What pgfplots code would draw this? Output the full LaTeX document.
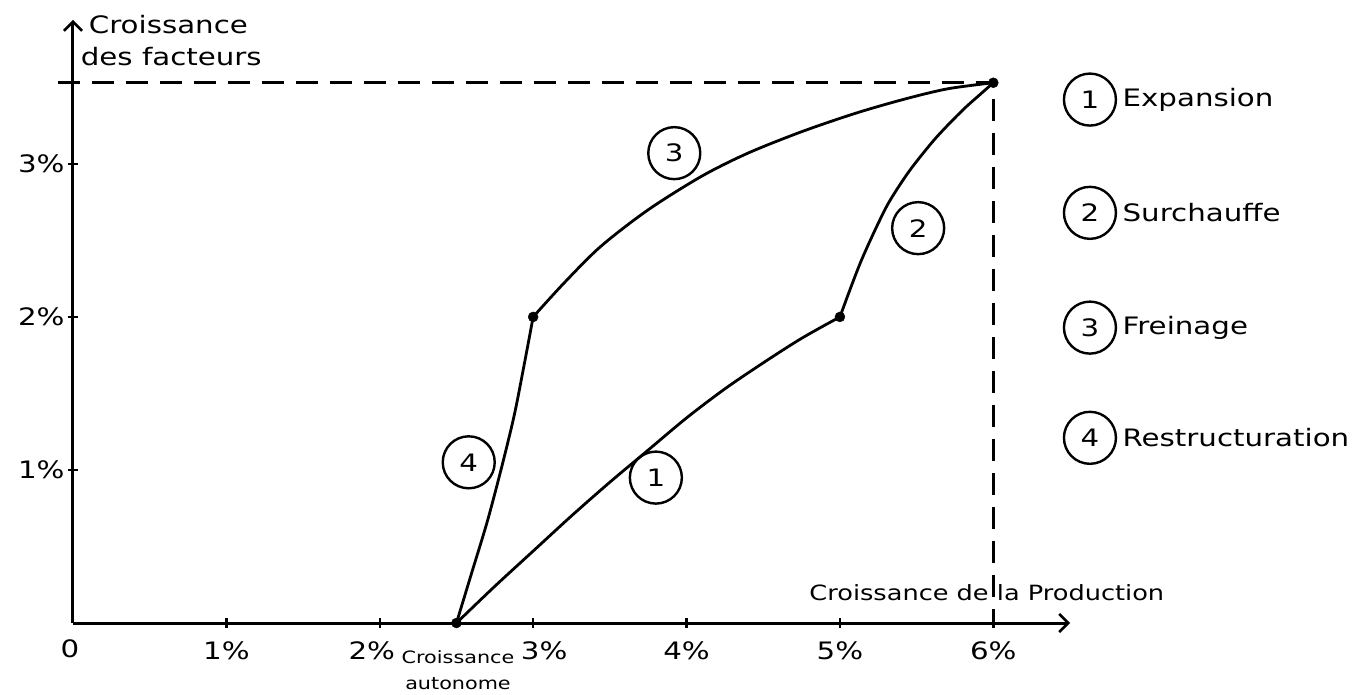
\documentclass[border=0pt]{standalone}
\usepackage{fontspec}
\setmainfont{DejaVu Sans}[FakeStretch=1.22]
\usepackage{pgfplots}
\pgfplotsset{compat=1.18}
\usetikzlibrary{arrows.meta}
\newcommand\hand{\fontsize{24}{28}\selectfont}

\begin{document}
\begin{tikzpicture}[font=\hand,
    circ/.style={draw, circle, line width=2.4pt, minimum size=52pt, inner sep=0pt}]
\useasboundingbox (-73pt,-71pt) rectangle (1291pt,623pt);
\begin{axis}[
    at={(0pt,0pt)}, anchor=origin,
    scale only axis, width=997pt, height=603pt,
    xmin=0, xmax=6.5, ymin=0, ymax=3.94,
    axis lines=left,
    axis line style={line width=3pt},
    x axis line style={-{Straight Barb[length=9pt,width=18pt,line width=2.6pt]}},
    y axis line style={-{Straight Barb[length=9pt,width=18pt,line width=2.6pt]}},
    xtick={1,2,3,4,5,6},
    xticklabels={1\%,2\%\hspace*{16pt},\hspace*{22pt}3\%,4\%,5\%,6\%},
    ytick={1,2,3}, yticklabels={1\%,2\%,3\%},
    tick align=center, major tick length=10pt,
    tick style={line width=2.4pt, black},
    tick label style={font=\hand},
    xticklabel style={yshift=-10pt},
    clip=false,
]
% reference lines
\addplot[line width=2.6pt, dash pattern=on 22pt off 12pt] coordinates {(-0.1,3.53) (6,3.53) (6,0)};

% 1 Expansion
\addplot[smooth, line width=2.8pt] coordinates {(2.5,0) (2.75,0.24) (3.0,0.47) (3.25,0.7) (3.5,0.92) (3.75,1.13) (4.0,1.34) (4.25,1.53) (4.5,1.7) (4.75,1.86) (5,2)};
% 2 Surchauffe
\addplot[smooth, line width=2.8pt] coordinates {(5,2) (5.07,2.19) (5.14,2.37) (5.23,2.57) (5.32,2.75) (5.45,2.95) (5.60,3.14) (5.71,3.26) (5.82,3.37) (5.91,3.45) (6,3.53)};
% 3 Freinage
\addplot[smooth, line width=2.8pt] coordinates {(3,2) (3.2,2.22) (3.44,2.46) (3.75,2.7) (4.1,2.92) (4.4,3.07) (4.75,3.21) (5.1,3.33) (5.41,3.42) (5.7,3.49) (6,3.53)};
% 4 Restructuration
\addplot[smooth, line width=2.8pt] coordinates {(2.5,0) (2.6,0.33) (2.7,0.66) (2.79,1.0) (2.875,1.35) (2.94,1.68) (3,2)};

\addplot[only marks, mark=*, mark size=5pt] coordinates {(2.5,0) (3,2) (5,2) (6,3.53)};

% phase numbers on the curves
\node[circ] at (axis cs:3.80,0.95) {1};
\node[circ] at (axis cs:5.51,2.58) {2};
\node[circ] at (axis cs:3.92,3.07) {3};
\node[circ] at (axis cs:2.58,1.05) {4};

% key
\node[circ] at (axis cs:6.63,3.42) {1};
\node[anchor=west] at (axis cs:6.82,3.42) {Expansion};
\node[circ] at (axis cs:6.63,2.68) {2};
\node[anchor=west] at (axis cs:6.82,2.68) {Surchauffe};
\node[circ] at (axis cs:6.63,1.93) {3};
\node[anchor=west] at (axis cs:6.82,1.93) {Freinage};
\node[circ] at (axis cs:6.63,1.21) {4};
\node[anchor=west] at (axis cs:6.82,1.21) {Restructuration};

% axis titles
\node[anchor=north west, align=left, inner sep=0pt, font=\fontsize{24}{32}\selectfont]
    at (axis cs:0.05,3.97) {\hspace*{8pt}Croissance\\des facteurs};
\node[anchor=west, inner sep=0pt, font=\fontsize{21}{25}\selectfont]
    at (axis cs:4.80,0.2) {Croissance de la Production};
\node[align=center, anchor=north, inner sep=0pt, font=\fontsize{17}{26}\selectfont]
    at (axis cs:2.51,0) [yshift=-27pt] {Croissance\\autonome};
\node at (axis cs:0,0) [xshift=-3pt, yshift=-26pt] {0};
\end{axis}
\end{tikzpicture}
\end{document}
